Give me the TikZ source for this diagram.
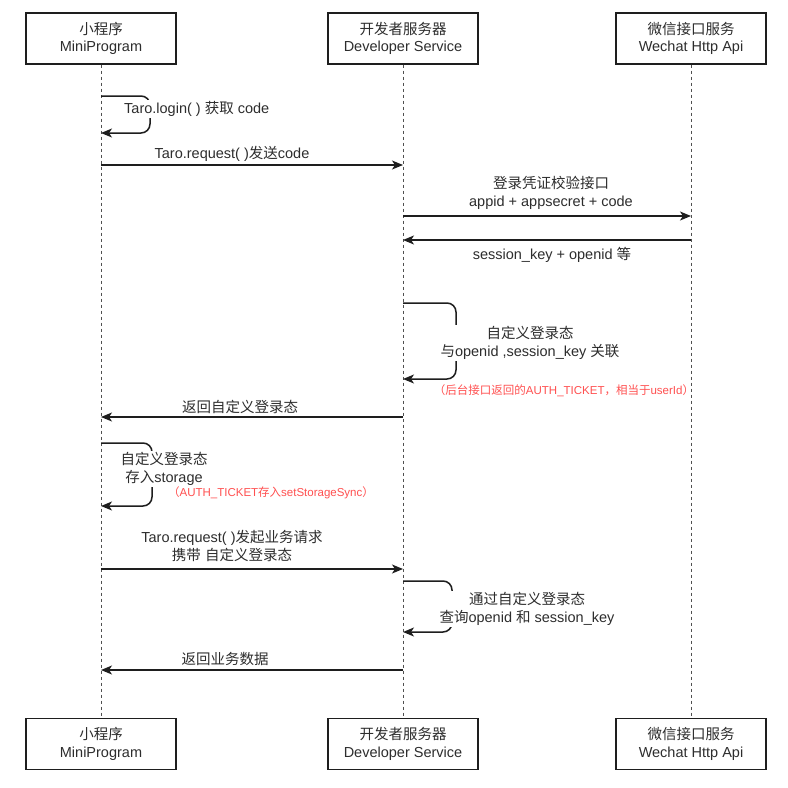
\documentclass[tikz,border=0pt]{standalone}
\usepackage{fontspec}
\setmainfont{Liberation Sans}
\newfontfamily\cjk{Noto Sans CJK SC}
\newcommand\zh[1]{{\cjk #1}}
\usetikzlibrary{arrows.meta}
\definecolor{ln}{RGB}{30,30,30}
\definecolor{txt}{RGB}{45,45,45}
\definecolor{redt}{RGB}{255,80,80}
\definecolor{life}{RGB}{80,80,80}
\begin{document}
\begin{tikzpicture}[x=1pt,y=-1pt,
 box/.style={draw=ln,line width=1.2pt,fill=white,minimum width=150pt,minimum height=51pt,align=center,inner sep=0pt,text=txt,font=\fontsize{14.5}{17.5}\selectfont},
 lifeline/.style={draw=life,line width=1pt,dash pattern=on 3pt off 3pt},
 msg/.style={draw=ln,line width=1.5pt,-{Stealth[length=11pt,width=9pt,inset=3pt]}},
 selfmsg/.style={msg,rounded corners=9pt},
 lbl/.style={text=txt,font=\fontsize{14.5}{18}\selectfont,align=center,inner sep=1pt,fill=white},
 note/.style={text=redt,font=\fontsize{11.5}{14}\selectfont,inner sep=0pt}]
\useasboundingbox[fill=white] (0,0) rectangle (788,788);

% participants
\node[box] (m1) at (101,38.5) {\zh{小程序}\\MiniProgram};
\node[box] (d1) at (403,38.5) {\zh{开发者服务器}\\Developer Service};
\node[box] (w1) at (691,38.5) {\zh{微信接口服务}\\Wechat Http Api};
\node[box] (m2) at (101,744) {\zh{小程序}\\MiniProgram};
\node[box] (d2) at (403,744) {\zh{开发者服务器}\\Developer Service};
\node[box] (w2) at (691,744) {\zh{微信接口服务}\\Wechat Http Api};

\draw[lifeline] (m1.south) -- (m2.north);
\draw[lifeline] (d1.south) -- (d2.north);
\draw[lifeline] (w1.south) -- (w2.north);

% coordinates on lifelines
\coordinate (l1a) at (101,96);  \coordinate (l1b) at (101,133);
\coordinate (r1s) at (101,165); \coordinate (r1e) at (403,165);
\coordinate (c1s) at (403,216); \coordinate (c1e) at (691,216);
\coordinate (c2s) at (691,240); \coordinate (c2e) at (403,240);
\coordinate (l2a) at (403,303); \coordinate (l2b) at (403,379);
\coordinate (b1s) at (403,417); \coordinate (b1e) at (101,417);
\coordinate (l3a) at (101,443); \coordinate (l3b) at (101,506);
\coordinate (r2s) at (101,569); \coordinate (r2e) at (403,569);
\coordinate (l4a) at (403,581); \coordinate (l4b) at (403,632);
\coordinate (b2s) at (403,670); \coordinate (b2e) at (101,670);

% messages
\draw[selfmsg] (l1a) -- (150,96) -- (150,133) -- (l1b);
\node[lbl,anchor=west] (t1) at (123,109) {Taro.login( ) \zh{获取} code};

\draw[msg] (r1s) -- (r1e);
\node[lbl] (t2) at (232,154) {Taro.request( )\zh{发送}code};

\draw[msg] (c1s) -- (c1e);
\node[lbl] (t3) at (551,193) {\zh{登录凭证校验接口}\\appid + appsecret + code};

\draw[msg] (c2s) -- (c2e);
\node[lbl] (t4) at (552,255) {session\_key + openid \zh{等}};

\draw[selfmsg] (l2a) -- (456,303) -- (456,379) -- (l2b);
\node[lbl] (t5) at (530,343) {\zh{自定义登录态}\\\zh{与}openid ,session\_key \zh{关联}};
\node[note] (n1) at (564,391) {\zh{（后台接口返回的}AUTH\_TICKET\zh{，相当于}userId\zh{）}};

\draw[msg] (b1s) -- (b1e);
\node[lbl] (t6) at (240,407) {\zh{返回自定义登录态}};

\draw[selfmsg] (l3a) -- (152,443) -- (152,506) -- (l3b);
\node[lbl] (t7) at (164,469) {\zh{自定义登录态}\\\zh{存入}storage};
\node[note] (n2) at (271,493) {\zh{（}AUTH\_TICKET\zh{存入}setStorageSync\zh{）}};

\draw[msg] (r2s) -- (r2e);
\node[lbl] (t8) at (232,546) {Taro.request( )\zh{发起业务请求}\\\zh{携带} \zh{自定义登录态}};

\draw[selfmsg] (l4a) -- (452,581) -- (452,632) -- (l4b);
\node[lbl] (t9) at (527,609) {\zh{通过自定义登录态}\\\zh{查询}openid \zh{和} session\_key};

\draw[msg] (b2s) -- (b2e);
\node[lbl] (t10) at (225,659) {\zh{返回业务数据}};
\end{tikzpicture}
\end{document}
